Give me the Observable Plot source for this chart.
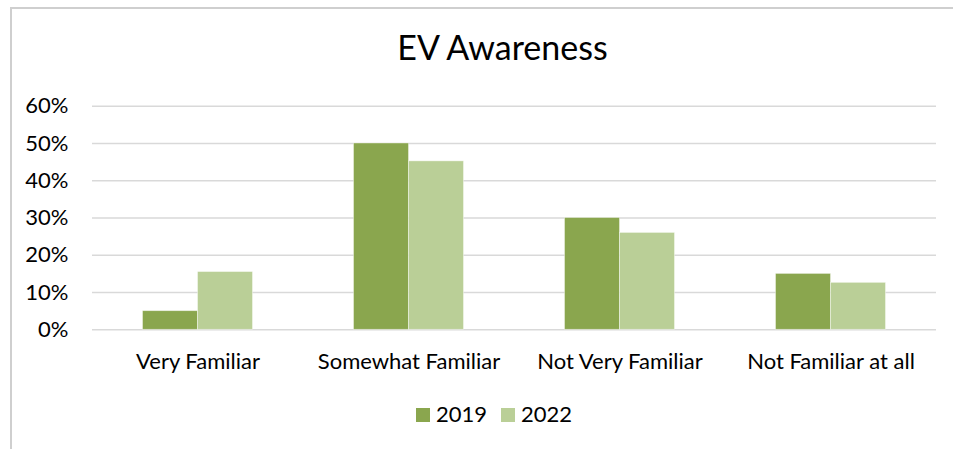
<!DOCTYPE html>
<html><head><meta charset="utf-8">
<script src="https://cdn.jsdelivr.net/npm/d3@7"></script>
<script src="https://cdn.jsdelivr.net/npm/@observablehq/plot@0.6"></script>
<style>
body{margin:0;background:#fff;font-family:Lato, "Noto Sans", sans-serif;color:#000;}
#frame{position:absolute;left:10px;top:7px;width:990px;height:460px;border-left:2px solid #cfcfcf;border-top:2px solid #cfcfcf;}
#title{position:absolute;left:0;width:1005px;top:30px;text-align:center;font-size:34px;line-height:1;}
#chart{position:absolute;left:0;top:90px;}
#legend{position:absolute;top:403px;left:416px;display:flex;align-items:center;font-size:22px;line-height:1;}
#legend .item{display:flex;align-items:center;margin-right:14px;}
#legend .sw{width:14px;height:14px;margin-right:6px;margin-top:2px;}
</style></head>
<body>
<div id="frame"></div>
<div id="title">EV Awareness</div>
<div id="chart"></div>
<div id="legend"></div>
<script>
const categories = ["Very Familiar", "Somewhat Familiar", "Not Very Familiar", "Not Familiar at all"];
const years = ["2019", "2022"];
const values2019 = [5, 50, 30, 15];
const values2022 = [15.5, 45.2, 26, 12.6];
const yTicks = [0, 10, 20, 30, 40, 50, 60];
const colors = ["#8aa64e", "#bacf97"];

const data = [];
categories.forEach((c, i) => {
  data.push({category: c, year: years[0], value: values2019[i]});
  data.push({category: c, year: years[1], value: values2022[i]});
});

const chart = Plot.plot({
  width: 953,
  height: 290,
  marginLeft: 92,
  marginRight: 17,
  marginTop: 15.7,
  marginBottom: 50.7,
  style: {fontFamily: "Lato, 'Noto Sans', sans-serif", fontSize: "22px", color: "#000", background: "transparent", overflow: "visible"},
  fx: {domain: categories, padding: 0, label: null, tickSize: 0, tickPadding: 23.4, round: false},
  x: {domain: years, paddingInner: 0, paddingOuter: 0.918, axis: null, round: false},
  y: {domain: [0, 60], ticks: yTicks, tickFormat: d => d + "%", tickSize: 0, tickPadding: 24, label: null},
  color: {domain: years, range: colors},
  marks: [
    Plot.ruleY(yTicks, {stroke: "#d9d9d9", strokeWidth: 1.5}),
    Plot.barY(data, {fx: "category", x: "year", y: "value", fill: "year", stroke: "#ffffff", strokeOpacity: 0.5, strokeWidth: 0.8})
  ]
});
document.getElementById("chart").appendChild(chart);

const legend = document.getElementById("legend");
years.forEach((y, i) => {
  const item = document.createElement("div");
  item.className = "item";
  const sw = document.createElement("div");
  sw.className = "sw";
  sw.style.background = colors[i];
  const t = document.createElement("span");
  t.textContent = y;
  item.appendChild(sw); item.appendChild(t);
  legend.appendChild(item);
});
</script>
</body></html>
